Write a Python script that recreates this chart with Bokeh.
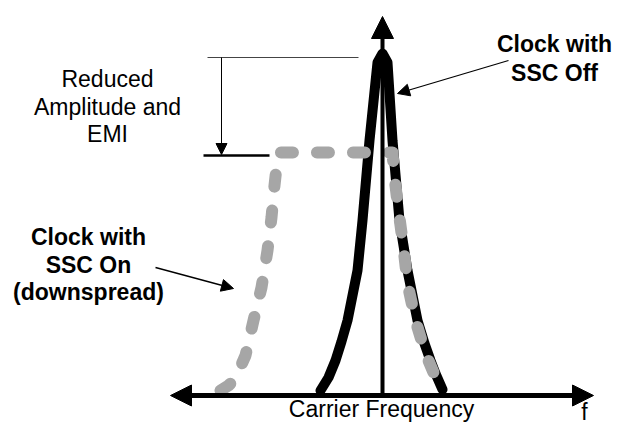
from bokeh.plotting import figure
from bokeh.models import Range1d, Arrow, NormalHead
from bokeh.core.properties import value
from bokeh.embed import file_html
from bokeh.resources import INLINE

# Clock spectrum with SSC off (frequency offset from carrier, amplitude)
off_freq = [-62, -54, -47, -41, -35, -30, -25, -20, -13, -5, 0, 5, 10, 17, 25, 35, 42, 48, 53, 60]
off_amp = [5, 18, 35, 54, 75, 100, 125, 175, 255, 333, 342, 333, 255, 175, 125, 75, 52, 35, 22, 6]

# Clock spectrum with SSC on (downspread)
on_freq = [-162, -154, -147, -137, -129, -121, -115, -111, -108, -106, -103, 10, 12, 16, 21, 25, 33, 43, 51, 60, 64]
on_amp = [5, 10, 17, 40, 75, 108, 145, 178, 210, 228, 243, 243, 218, 185, 148, 112, 75, 42, 23, 10, 5]

reduced_lines = ["Reduced", "Amplitude and", "EMI"]
off_lines = ["Clock with", "SSC Off"]
on_lines = ["Clock with", "SSC On", "(downspread)"]
axis_label = "Carrier Frequency"
axis_symbol = "f"

W, H = 612, 423
p = figure(width=W, height=H, output_backend="svg", toolbar_location=None,
           x_range=Range1d(-382, 230), y_range=Range1d(-28, 395),
           x_axis_type=None, y_axis_type=None, min_border=0,
           min_border_left=0, min_border_right=0, min_border_top=0, min_border_bottom=0)
p.grid.visible = False
p.outline_line_color = None
p.background_fill_color = "white"
p.border_fill_color = "white"

# axes with arrows
p.add_layout(Arrow(start=NormalHead(size=21, fill_color="black", line_color="black"),
                   end=NormalHead(size=21, fill_color="black", line_color="black"),
                   x_start=-212, y_start=0, x_end=211, y_end=0, line_width=5, line_color="black"))
p.add_layout(Arrow(end=NormalHead(size=22, fill_color="black", line_color="black"),
                   x_start=0, y_start=0, x_end=0, y_end=379, line_width=4, line_color="black"))

# spectra
p.line(off_freq, off_amp, line_color="black", line_width=10, line_join="round", line_cap="round")
p.line(on_freq, on_amp, line_color="#a6a6a6", line_width=12, line_dash="12 24",
       line_cap="round", line_join="round")

# amplitude reduction annotation
p.segment(x0=[-175], y0=[338], x1=[-24], y1=[338], line_color="#444444", line_width=1)
p.segment(x0=[-179], y0=[240], x1=[-113], y1=[240], line_color="black", line_width=2.5)
p.add_layout(Arrow(end=NormalHead(size=11, fill_color="black", line_color="black"),
                   x_start=-161, y_start=338, x_end=-161, y_end=241, line_width=1, line_color="black"))

# pointer arrows
p.add_layout(Arrow(end=NormalHead(size=12, fill_color="black", line_color="black"),
                   x_start=126, y_start=335, x_end=15, y_end=302, line_width=1.3, line_color="black"))
p.add_layout(Arrow(end=NormalHead(size=12, fill_color="black", line_color="black"),
                   x_start=-227, y_start=128, x_end=-149, y_end=107, line_width=1.3, line_color="black"))

FONT = value("Liberation Sans")
SIZE = value("23px")

p.text(x=[-275] * 3, y=[317, 289, 262], text=reduced_lines, text_font=FONT, text_font_size=SIZE,
       text_align="center", text_baseline="alphabetic", text_color="black")
p.text(x=[172] * 2, y=[352, 323], text=off_lines, text_font=FONT, text_font_size=SIZE,
       text_font_style="bold", text_align="center", text_baseline="alphabetic", text_color="black")
p.text(x=[-294] * 3, y=[159, 131, 104], text=on_lines, text_font=FONT, text_font_size=SIZE,
       text_font_style="bold", text_align="center", text_baseline="alphabetic", text_color="black")
p.text(x=[-1], y=[-13], text=[axis_label], text_font=FONT, text_font_size=SIZE,
       text_align="center", text_baseline="alphabetic", text_color="black")
p.text(x=[202], y=[-16], text=[axis_symbol], text_font=FONT, text_font_size=SIZE,
       text_align="center", text_baseline="alphabetic", text_color="black")

open("out.html", "w").write(file_html(p, INLINE))
